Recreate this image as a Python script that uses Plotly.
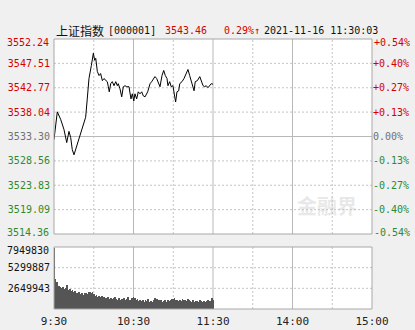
import plotly.graph_objects as go

# ---------------- data ----------------
prev_close = 3533.30
# minute offsets from 09:30 (trading minutes) and index values
price_min = [0, 0.75, 2.5, 5, 7.5, 9.6, 11.3, 12.6, 13.8, 15.1, 16.8, 18.9, 21.4, 23.9, 25.1, 26.4,
             28.2, 29.7, 30.7, 31.5, 32.7, 34, 35.2, 36.5, 37.7, 39, 40.2, 41, 41.7, 42.8, 44,
             45.3, 46.6, 47.8, 48.5, 49.8, 51.1, 52.3, 53.6, 54.9, 56.6, 58.1, 59.1, 60.2, 61.1,
             62.4, 63.6, 64.9, 66.2, 67.4, 68.7, 70.7, 72.5, 73.7, 74.9, 76.2, 77.5, 78.7, 80,
             81.5, 82.8, 84, 85.3, 86, 87.3, 88.5, 89.8, 91.1, 91.8, 92.8, 94.1, 94.9, 96.6,
             98.1, 99.8, 101.1, 102.4, 103.6, 104.9, 105.7, 106.6, 108.2, 110, 111.2, 112.5,
             113.7, 114.9, 116.2, 117.5, 118.7, 120]
price_val = [3532.71, 3534.29, 3538.09, 3536.65, 3534.68, 3532.12, 3534.29, 3533.10, 3530.73,
             3529.75, 3531.13, 3533.30, 3535.08, 3537.05, 3540.60, 3544.55, 3547.11, 3549.48,
             3548.10, 3548.49, 3545.93, 3545.14, 3545.53, 3544.15, 3544.55, 3544.15, 3543.95,
             3542.97, 3541.98, 3543.56, 3543.95, 3543.17, 3543.95, 3543.17, 3543.56, 3542.57,
             3541.00, 3542.97, 3543.17, 3542.97, 3542.97, 3540.60, 3541.59, 3540.21, 3541.59,
             3540.60, 3541.98, 3541.59, 3541.98, 3541.19, 3541.00, 3541.98, 3543.56, 3543.95,
             3544.55, 3544.94, 3544.55, 3543.56, 3542.97, 3545.14, 3546.13, 3545.14, 3544.55,
             3543.17, 3543.95, 3542.97, 3543.17, 3541.00, 3540.01, 3541.98, 3542.18, 3543.56,
             3543.95, 3544.55, 3545.53, 3546.32, 3545.14, 3543.95, 3543.17, 3542.18, 3543.95,
             3544.15, 3544.94, 3543.95, 3543.17, 3542.97, 3543.17, 3542.78, 3543.17, 3543.56,
             3543.46]
volume = [7800000, 3810000, 3500000, 2950000, 2900000, 2860000, 2650000, 2860000, 2520000, 2700000,
          3080000, 2440000, 2520000, 2350000, 2380000, 2220000, 2250000, 2090000, 2010000, 2220000,
          1920000, 2090000, 1800000, 2100000, 2010000, 1900000, 2150000, 2220000, 2090000, 2200000,
          1950000, 1700000, 1800000, 1580000, 1650000, 1500000, 1620000, 1400000, 1550000, 1450000,
          1380000, 1500000, 1300000, 1420000, 1250000, 1350000, 1600000, 1300000, 1200000, 1450000,
          1150000, 1300000, 1250000, 1380000, 1100000, 1250000, 1500000, 1200000, 1150000, 1350000,
          1580000, 1400000, 1150000, 1300000, 1050000, 1200000, 1000000, 1100000, 950000, 1150000,
          1000000, 1250000, 900000, 1050000, 950000, 1100000, 1350000, 1200000, 1300000, 1150000,
          1000000, 1100000, 900000, 1050000, 1200000, 950000, 1100000, 1000000, 1150000, 1300000,
          1240000, 1350000, 1200000, 1100000, 1000000, 1150000, 1050000, 1300000, 1200000, 1100000,
          1000000, 1250000, 1150000, 1050000, 950000, 1100000, 900000, 1000000, 1050000, 950000,
          1100000, 1000000, 900000, 1050000, 950000, 1000000, 1100000, 950000, 1050000, 1370000, 1200000]
volume_min = list(range(len(volume)))

price_ticks = [3552.24, 3547.51, 3542.77, 3538.04, 3533.30, 3528.56, 3523.83, 3519.09, 3514.36]
pct_labels = ["+0.54%", "+0.40%", "+0.27%", "+0.13%", "0.00%", "-0.13%", "-0.27%", "-0.40%", "-0.54%"]
vol_ticks = [7949830, 5299887, 2649943]
time_ticks = [0, 60, 120, 180, 240]
time_labels = ["9:30", "10:30", "11:30", "14:00", "15:00"]
grid_minutes = [30, 60, 90, 120, 150, 180, 210]
solid_minutes = [60, 120, 180]

title_name = "上证指数"
title_code = "[000001]"
last_price = "3543.46"
change_pct = "0.29%↑"
timestamp = "2021-11-16 11:30:03"

# ---------------- style ----------------
RED = "#d40000"
GREEN = "#2f8a2f"
GRAY = "#707070"
MONO = "DejaVu Sans Mono"
GRID = "#c4c4c4"


def col(v):
    if v > prev_close + 1e-9:
        return RED
    if v < prev_close - 1e-9:
        return GREEN
    return GRAY


inner = price_ticks[1:-1]
left_text = [f'<span style="color:{col(v)}">{v:.2f}</span>' for v in inner]
right_text = [f'<span style="color:{col(v)}">{t}</span>' for v, t in zip(inner, pct_labels[1:-1])]

fig = go.Figure()
fig.add_trace(go.Scatter(x=price_min, y=price_val, mode="lines",
                         line=dict(color="#000000", width=1), xaxis="x", yaxis="y",
                         hoverinfo="skip"))
fig.add_trace(go.Bar(x=volume_min, y=volume, marker=dict(color="#555555", line=dict(width=0)),
                     width=0.55, xaxis="x2", yaxis="y2", hoverinfo="skip"))
# invisible trace to activate right axis
fig.add_trace(go.Scatter(x=[0], y=[prev_close], mode="markers", marker=dict(opacity=0),
                         xaxis="x", yaxis="y3", hoverinfo="skip"))

shapes = []
for v in price_ticks[1:-1]:
    solid = abs(v - prev_close) < 1e-9
    shapes.append(dict(type="line", xref="x domain", yref="y", x0=0, x1=1, y0=v, y1=v,
                       line=dict(color="#b8b8b8" if solid else GRID, width=1,
                                 dash="solid" if solid else "2px,2px"), layer="below"))
for v in vol_ticks[1:]:
    shapes.append(dict(type="line", xref="x2 domain", yref="y2", x0=0, x1=1, y0=v, y1=v,
                       line=dict(color=GRID, width=1, dash="2px,2px"), layer="below"))
for m in grid_minutes:
    solid = m in solid_minutes
    for xr, yr in (("x", "y domain"), ("x2", "y2 domain")):
        shapes.append(dict(type="line", xref=xr, yref=yr, x0=m, x1=m, y0=0, y1=1,
                           line=dict(color="#b8b8b8" if solid else GRID, width=1,
                                     dash="solid" if solid else "2px,2px"), layer="below"))
for xr, yr in (("x domain", "y domain"), ("x2 domain", "y2 domain")):
    shapes.append(dict(type="rect", xref=xr, yref=yr, x0=0, x1=1, y0=0, y1=1,
                       line=dict(color="#a8a8a8", width=1), layer="above"))

TOP = 1 + 8 / 270


def head(text, px, family, size, color):
    return dict(text=text, x=px / 318, y=TOP, xref="paper", yref="paper", xanchor="left",
                yanchor="middle", showarrow=False, font=dict(family=family, size=size, color=color))


annotations = [
    head(title_name, 0, "Noto Sans CJK SC", 12, "#111111"),
    head(title_code, 52, MONO, 10, "#111111"),
    head(last_price, 109, MONO, 10, RED),
    head(change_pct, 168, MONO, 10, RED),
    head(timestamp, 208, MONO, 10, "#111111"),
    dict(text="<b>金融界</b>", x=0.86, y=0.385, xref="paper", yref="paper", xanchor="center",
         yanchor="middle", showarrow=False,
         font=dict(family="Noto Sans CJK SC", size=20, color="rgba(190,190,190,0.35)")),
]
for v, lab, shift in ((price_ticks[0], pct_labels[0], -3), (price_ticks[-1], pct_labels[-1], 2)):
    annotations.append(dict(text=f"{v:.2f}", x=0, y=v, xref="x domain", yref="y",
                            xanchor="right", yanchor="middle", xshift=-3, yshift=shift,
                            showarrow=False, font=dict(family=MONO, size=10, color=col(v))))
    annotations.append(dict(text=lab, x=1, y=v, xref="x domain", yref="y",
                            xanchor="left", yanchor="middle", xshift=0, yshift=shift,
                            showarrow=False, font=dict(family=MONO, size=10, color=col(v))))
annotations.append(dict(text=str(vol_ticks[0]), x=0, y=vol_ticks[0], xref="x2 domain", yref="y2",
                        xanchor="right", yanchor="middle", xshift=-3, yshift=-3, showarrow=False,
                        font=dict(family=MONO, size=10, color="#111111")))

price_dom = [(309 - 234) / 270, 1]
vol_dom = [0, (309 - 247) / 270]

fig.update_layout(
    width=415, height=330,
    margin=dict(l=54, r=43, t=39, b=21, pad=0, autoexpand=False),
    paper_bgcolor="#f0f0f0", plot_bgcolor="#ffffff",
    showlegend=False, bargap=0,
    shapes=shapes, annotations=annotations,
    xaxis=dict(domain=[0, 1], range=[0, 240], anchor="y", showticklabels=False,
               showgrid=False, zeroline=False, showline=False, ticks="", automargin=False),
    yaxis=dict(domain=price_dom, range=[price_ticks[-1], price_ticks[0]], anchor="x",
               tickvals=inner, ticktext=left_text, showgrid=False, zeroline=False,
               showline=False, ticks="", ticklabelstandoff=3, automargin=False,
               tickfont=dict(family=MONO, size=10)),
    yaxis3=dict(overlaying="y", side="right", anchor="x",
                range=[price_ticks[-1], price_ticks[0]], automargin=False,
                tickvals=inner, ticktext=right_text, showgrid=False, zeroline=False,
                showline=False, ticks="", tickfont=dict(family=MONO, size=10)),
    xaxis2=dict(domain=[0, 1], range=[0, 240], anchor="y2", tickvals=time_ticks,
                ticktext=time_labels, showgrid=False, zeroline=False, showline=False,
                ticks="", ticklabelstandoff=4, automargin=False,
                tickfont=dict(family=MONO, size=11, color="#222222")),
    yaxis2=dict(domain=vol_dom, range=[0, vol_ticks[0]], anchor="x2", tickvals=vol_ticks[1:],
                ticktext=[str(v) for v in vol_ticks[1:]], showgrid=False, zeroline=False,
                showline=False, ticks="", ticklabelstandoff=3, automargin=False,
                tickfont=dict(family=MONO, size=10, color="#111111")),
)

fig.write_html("out.html")
